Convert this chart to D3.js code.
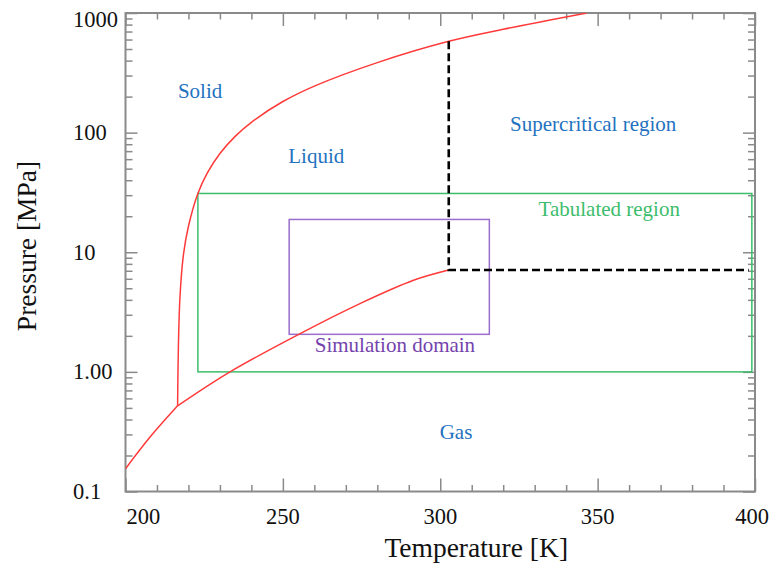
<!DOCTYPE html>
<html>
<head>
<meta charset="utf-8">
<script src="https://cdn.jsdelivr.net/npm/d3@7"></script>
<style>
  html, body { margin: 0; padding: 0; background: #fff; }
  svg { display: block; font-family: "Liberation Serif", "Times New Roman", serif; }
</style>
</head>
<body>
<svg id="chart" width="771" height="572"></svg>
<script>
// CO2 phase diagram: temperature [K] vs pressure [MPa] (log scale)

// Axis ticks
const xTickValues = [200, 250, 300, 350, 400];
const xTickLabels = ["200", "250", "300", "350", "400"];
const xMinorTicks = [210, 220, 230, 240, 260, 270, 280, 290, 310, 320, 330, 340, 360, 370, 380, 390];
const yTickValues = [0.1, 1, 10, 100, 1000];
const yTickLabels = ["0.1", "1.00", "10", "100", "1000"];

// Sublimation line (up to the triple point)
const sublimationT = [200.0, 207.8, 216.55];
const sublimationP = [0.155, 0.285, 0.52];

// Vaporization line (triple point to critical point)
const vaporT = [216.55, 233.2, 255.5, 274.5, 291.5, 302.7];
const vaporP = [0.52, 1.0, 2.09, 3.72, 5.83, 7.1];

// Melting line (from the triple point upward)
const meltT = [216.55, 216.8, 217.3, 218.4, 220.0, 223.0, 226.0, 230.0, 235.0, 240.0, 250.0, 260.0, 280.0, 302.7, 320.0, 346.6];
const meltP = [0.52, 1.6, 4.2, 9.5, 16.5, 31, 46, 67, 94, 122, 182, 245, 385, 580, 731, 1000];

// Critical isotherm / isobar bounding the supercritical region
const criticalT = 302.7;
const criticalP = 7.1;
const isothermTopP = 580;
const isobarEndT = 398;

// Tabulated region and simulation domain
const tabulatedT = [223, 399];
const tabulatedP = [1.0, 31];
const simulationT = [252, 315.6];
const simulationP = [2.06, 18.8];

// Region labels
const regionNames = ["Solid", "Liquid", "Supercritical region", "Gas"];
const regionT = [223.7, 260.6, 348.6, 305.0];
const regionP = [195, 55.8, 103, 0.275];

const svg = d3.select("#chart");
const plotLeft = 125.5, plotRight = 755, plotTop = 13, plotBottom = 491.5;

const x = d3.scaleLinear().domain([200, 400]).range([plotLeft, plotRight]);
const y = d3.scaleLog().domain([0.1, 1000]).range([plotBottom, plotTop]);

const axisColor = "#8a8a8a";
const blue = "#1f72bf";
const green = "#3dbd6c";
const purple = "#9b6dcc";
const purpleText = "#7443ad";
const red = "#ff3a3a";

const defs = svg.append("defs");
defs.append("clipPath").attr("id", "plot-clip")
  .append("rect").attr("x", plotLeft).attr("y", plotTop)
  .attr("width", plotRight - plotLeft).attr("height", plotBottom - plotTop);

// Minor log ticks: 2..9 within each decade
const yMinor = [];
for (let d = -1; d < 3; d++) {
  for (let k = 2; k <= 9; k++) yMinor.push(k * Math.pow(10, d));
}

function styleAxis(g) {
  g.select(".domain").remove();
  g.selectAll(".tick line").attr("stroke", axisColor).attr("stroke-width", 1.5);
  g.selectAll(".tick text").remove();
}

// Bottom and top axes (ticks pointing inward)
svg.append("g").attr("transform", `translate(0,${plotBottom})`)
  .call(d3.axisBottom(x).tickValues(xTickValues).tickSize(-13).tickFormat(""))
  .call(styleAxis);
svg.append("g").attr("transform", `translate(0,${plotBottom})`)
  .call(d3.axisBottom(x).tickValues(xMinorTicks).tickSize(-6.5).tickFormat(""))
  .call(styleAxis);
svg.append("g").attr("transform", `translate(0,${plotTop})`)
  .call(d3.axisTop(x).tickValues(xTickValues).tickSize(-13).tickFormat(""))
  .call(styleAxis);
svg.append("g").attr("transform", `translate(0,${plotTop})`)
  .call(d3.axisTop(x).tickValues(xMinorTicks).tickSize(-6.5).tickFormat(""))
  .call(styleAxis);

// Left and right axes
svg.append("g").attr("transform", `translate(${plotLeft},0)`)
  .call(d3.axisLeft(y).tickValues(yTickValues).tickSize(-12).tickFormat(""))
  .call(styleAxis);
svg.append("g").attr("transform", `translate(${plotLeft},0)`)
  .call(d3.axisLeft(y).tickValues(yMinor).tickSize(-7).tickFormat(""))
  .call(styleAxis);
svg.append("g").attr("transform", `translate(${plotRight},0)`)
  .call(d3.axisRight(y).tickValues(yTickValues).tickSize(-12).tickFormat(""))
  .call(styleAxis);
svg.append("g").attr("transform", `translate(${plotRight},0)`)
  .call(d3.axisRight(y).tickValues(yMinor).tickSize(-7).tickFormat(""))
  .call(styleAxis);

// Frame
svg.append("rect")
  .attr("x", plotLeft).attr("y", plotTop)
  .attr("width", plotRight - plotLeft).attr("height", plotBottom - plotTop)
  .attr("fill", "none").attr("stroke", axisColor).attr("stroke-width", 2);

// Tick labels
const xLabelAnchor = ["start", "middle", "middle", "middle", "end"];
const xLabelShift = [1, 0, 0, 0, 14];
svg.append("g").selectAll("text").data(xTickValues).join("text")
  .attr("x", (d, i) => x(d) + xLabelShift[i])
  .attr("y", 524)
  .attr("text-anchor", (d, i) => xLabelAnchor[i])
  .attr("font-size", 22.5)
  .attr("fill", "#111")
  .text((d, i) => xTickLabels[i]);

svg.append("g").selectAll("text").data(yTickValues).join("text")
  .attr("x", 73)
  .attr("y", d => Math.max(y(d) + 7.5, 26.7))
  .attr("text-anchor", "start")
  .attr("font-size", 22.5)
  .attr("fill", "#111")
  .text((d, i) => yTickLabels[i]);

// Axis titles
svg.append("text")
  .attr("x", (plotLeft + plotRight) / 2 + 36).attr("y", 557)
  .attr("text-anchor", "middle")
  .attr("font-size", 27.5)
  .attr("fill", "#111")
  .text("Temperature [K]");
svg.append("text")
  .attr("transform", `translate(36,246) rotate(-90)`)
  .attr("text-anchor", "middle")
  .attr("font-size", 27.5)
  .attr("fill", "#111")
  .text("Pressure [MPa]");

const plot = svg.append("g").attr("clip-path", "url(#plot-clip)");

// Tabulated region
plot.append("rect")
  .attr("x", x(tabulatedT[0])).attr("y", y(tabulatedP[1]))
  .attr("width", x(tabulatedT[1]) - x(tabulatedT[0]))
  .attr("height", y(tabulatedP[0]) - y(tabulatedP[1]))
  .attr("fill", "none").attr("stroke", green).attr("stroke-width", 1.5);

// Simulation domain
plot.append("rect")
  .attr("x", x(simulationT[0])).attr("y", y(simulationP[1]))
  .attr("width", x(simulationT[1]) - x(simulationT[0]))
  .attr("height", y(simulationP[0]) - y(simulationP[1]))
  .attr("fill", "none").attr("stroke", purple).attr("stroke-width", 1.5);

// Phase boundaries
const line = d3.line()
  .x(d => x(d[0])).y(d => y(d[1]))
  .curve(d3.curveCatmullRom.alpha(0.5));
const toPairs = (T, P) => T.map((t, i) => [t, P[i]]);

plot.append("path").datum(toPairs(sublimationT, sublimationP))
  .attr("d", line).attr("fill", "none").attr("stroke", red).attr("stroke-width", 1.5);
plot.append("path").datum(toPairs(vaporT, vaporP))
  .attr("d", line).attr("fill", "none").attr("stroke", red).attr("stroke-width", 1.5);
plot.append("path").datum(toPairs(meltT, meltP))
  .attr("d", line).attr("fill", "none").attr("stroke", red).attr("stroke-width", 1.5);

// Critical isotherm and isobar (dashed)
plot.append("path")
  .datum([[criticalT, isothermTopP], [criticalT, criticalP], [isobarEndT, criticalP]])
  .attr("d", d3.line().x(d => x(d[0])).y(d => y(d[1])))
  .attr("fill", "none").attr("stroke", "#000")
  .attr("stroke-width", 2.6).attr("stroke-dasharray", "8,4");

// Region labels
svg.append("g").selectAll("text").data(regionNames).join("text")
  .attr("x", (d, i) => x(regionT[i]))
  .attr("y", (d, i) => y(regionP[i]))
  .attr("text-anchor", "middle")
  .attr("font-size", 21)
  .attr("fill", blue)
  .text(d => d);

svg.append("text")
  .attr("x", x(353.7)).attr("y", y(20.0))
  .attr("text-anchor", "middle")
  .attr("font-size", 21)
  .attr("fill", green)
  .text("Tabulated region");

svg.append("text")
  .attr("x", x(285.6)).attr("y", y(1.47))
  .attr("text-anchor", "middle")
  .attr("font-size", 21)
  .attr("fill", purpleText)
  .text("Simulation domain");
</script>
</body>
</html>
